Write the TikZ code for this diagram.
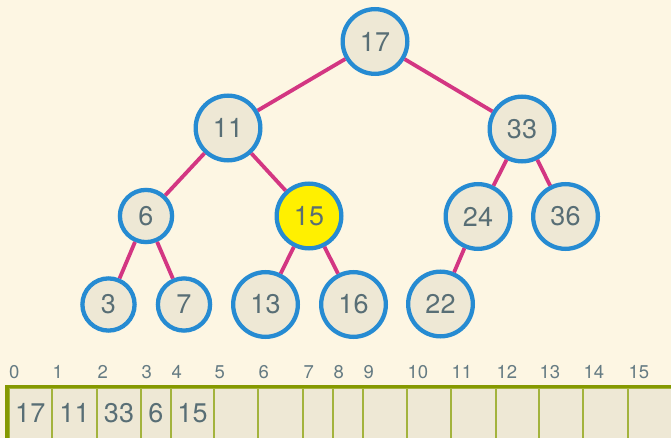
\documentclass[tikz,border=0pt]{standalone}
\usepackage{fontspec}
\setmainfont{TeX Gyre Heros}
\definecolor{bgc}{HTML}{FDF6E3}
\definecolor{fillc}{HTML}{EEE8D5}
\definecolor{textc}{HTML}{586E75}
\definecolor{labc}{HTML}{657B83}
\definecolor{bluec}{HTML}{268BD2}
\definecolor{magc}{HTML}{D33682}
\definecolor{hlc}{HTML}{FFF000}
\definecolor{greenc}{HTML}{859900}
\definecolor{lgreenc}{HTML}{A3B33D}
\tikzset{
  tnode/.style={circle, draw=bluec, line width=4.3pt, fill=fillc, text=textc,
    font=\fontsize{27}{30}\selectfont, inner sep=0pt, minimum size=64.7pt},
  snode/.style={tnode, minimum size=52.2pt},
  hl/.style={fill=hlc},
  edge/.style={draw=magc, line width=3.8pt},
  cell/.style={rectangle, draw=lgreenc, line width=2.7pt, fill=fillc, text=textc,
    font=\fontsize{27}{30}\selectfont, inner sep=0pt, text height=24pt, text depth=11pt},
  idx/.style={anchor=base west, inner sep=0pt, text=labc, font=\fontsize{18.5}{20}\selectfont}
}
\begin{document}
\begin{tikzpicture}[x=1pt,y=-1pt]
\clip (0,0) rectangle (671,438);
\fill[bgc] (0,0) rectangle (671,438);
% tree
\node[tnode] (n17) at (375,41.5) {17};
\node[tnode] (n11) at (228,128) {11};
\node[tnode] (n33) at (522,129) {33};
\node[snode] (n6) at (146,216) {6};
\node[tnode,hl] (n15) at (309,216) {15};
\node[tnode] (n24) at (478,216.5) {24};
\node[tnode] (n36) at (565.5,216.5) {36};
\node[snode] (n3) at (108.5,304.5) {3};
\node[snode] (n7) at (184,304.5) {7};
\node[tnode] (n13) at (265.5,304.5) {13};
\node[tnode] (n16) at (353.5,304.5) {16};
\node[tnode] (n22) at (440.5,304) {22};
\foreach \a/\b in {n17/n11, n17/n33, n11/n6, n11/n15, n33/n24, n33/n36,
                   n6/n3, n6/n7, n15/n13, n15/n16, n24/n22}
  \draw[edge] (\a) -- (\b);
% array
\foreach \i/\xa/\xb/\v in {0/8.5/52/17, 1/52/97/11, 2/97/141/33, 3/141/171/6, 4/171/214/15,
    5/214/258/, 6/258/303/, 7/303/333/, 8/333/363/, 9/363/407/, 10/407/451/,
    11/451/496/, 12/496/539/, 13/539/583/, 14/583/628/, 15/628/675/} {
  \node[cell, minimum width={\xb pt-\xa pt}, minimum height=56pt]
    (c\i) at ({(\xa+\xb)/2},416) {\v};
  \node[idx] (i\i) at (\xa+0.5,378) {\i};
}
\draw[greenc, line width=3.6pt] (c0.south west) -- (c0.north west) -- (c15.north east);
\end{tikzpicture}
\end{document}
